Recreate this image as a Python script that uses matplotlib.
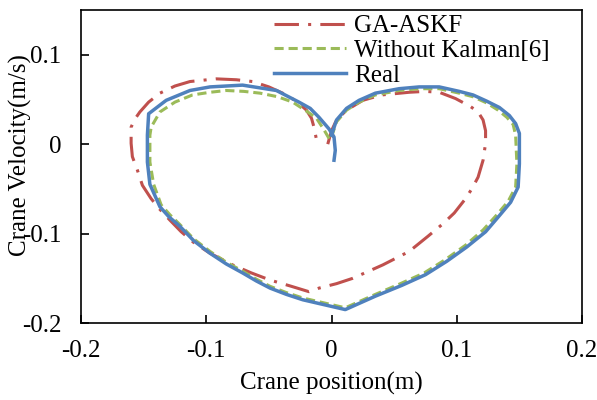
import numpy as np
import matplotlib
matplotlib.use('Agg')
import matplotlib.pyplot as plt
import matplotlib as mpl

mpl.rcParams['font.family'] = ['Liberation Serif', 'DejaVu Serif']
mpl.rcParams['font.size'] = 18

# GA-ASKF
ga_x = [-0.003, 0.000, 0.004, 0.012, 0.025, 0.040, 0.062, 0.075, 0.086, 0.099,
        0.111, 0.117, 0.121, 0.123, 0.123, 0.121, 0.117, 0.112, 0.107, 0.098,
        0.089, 0.077, 0.062, 0.041, 0.017, 0.004, -0.010, -0.018, -0.032, -0.049,
        -0.064, -0.079, -0.097, -0.110, -0.120, -0.129, -0.137, -0.144, -0.151, -0.155,
        -0.159, -0.160, -0.160, -0.157, -0.153, -0.146, -0.137, -0.125, -0.113, -0.092,
        -0.076, -0.063, -0.050, -0.039, -0.028, -0.020, -0.016, -0.014, -0.012]
ga_y = [0.000, 0.015, 0.027, 0.038, 0.049, 0.055, 0.058, 0.059, 0.058, 0.051,
        0.042, 0.036, 0.027, 0.015, 0.001, -0.018, -0.037, -0.050, -0.061, -0.077,
        -0.089, -0.103, -0.120, -0.135, -0.150, -0.156, -0.161, -0.165, -0.159, -0.152,
        -0.144, -0.135, -0.122, -0.110, -0.098, -0.085, -0.073, -0.061, -0.046, -0.029,
        -0.014, 0.001, 0.019, 0.028, 0.036, 0.047, 0.057, 0.065, 0.070, 0.073,
        0.072, 0.070, 0.064, 0.057, 0.048, 0.038, 0.029, 0.019, 0.005]

# Without Kalman[6]
wk_x = [0.000, 0.004, 0.012, 0.022, 0.035, 0.054, 0.070, 0.086, 0.102, 0.113,
        0.124, 0.133, 0.140, 0.145, 0.147, 0.148, 0.147, 0.141, 0.132, 0.121,
        0.107, 0.091, 0.074, 0.055, 0.035, 0.011, -0.023, -0.036, -0.049, -0.060,
        -0.071, -0.084, -0.097, -0.110, -0.121, -0.129, -0.136, -0.142, -0.145, -0.145,
        -0.144, -0.137, -0.125, -0.111, -0.097, -0.084, -0.070, -0.057, -0.043, -0.031,
        -0.019, -0.012, -0.006, -0.001]
wk_y = [0.008, 0.025, 0.038, 0.047, 0.055, 0.060, 0.062, 0.062, 0.057, 0.053,
        0.046, 0.038, 0.030, 0.022, 0.010, -0.022, -0.048, -0.064, -0.079, -0.096,
        -0.113, -0.129, -0.144, -0.156, -0.168, -0.183, -0.172, -0.166, -0.159, -0.151,
        -0.142, -0.132, -0.120, -0.106, -0.090, -0.079, -0.068, -0.045, -0.020, 0.010,
        0.019, 0.036, 0.047, 0.055, 0.058, 0.060, 0.059, 0.057, 0.053, 0.047,
        0.036, 0.029, 0.016, 0.004]

# Real
re_x = [0.000, 0.004, 0.012, 0.022, 0.035, 0.054, 0.070, 0.086, 0.102, 0.113,
        0.124, 0.134, 0.142, 0.147, 0.150, 0.150, 0.149, 0.143, 0.134, 0.123,
        0.108, 0.092, 0.075, 0.056, 0.035, 0.011, -0.023, -0.036, -0.049, -0.060,
        -0.071, -0.084, -0.097, -0.110, -0.121, -0.130, -0.137, -0.145, -0.147, -0.147,
        -0.146, -0.132, -0.113, -0.097, -0.071, -0.044, -0.026, -0.017, -0.010, -0.002,
        0.002, 0.003, 0.002]
re_y = [0.010, 0.027, 0.040, 0.049, 0.057, 0.062, 0.064, 0.064, 0.059, 0.055,
        0.048, 0.041, 0.032, 0.023, 0.012, -0.022, -0.048, -0.065, -0.080, -0.098,
        -0.115, -0.131, -0.146, -0.158, -0.170, -0.185, -0.174, -0.168, -0.161, -0.153,
        -0.144, -0.134, -0.122, -0.108, -0.092, -0.081, -0.070, -0.045, -0.020, 0.010,
        0.034, 0.049, 0.060, 0.064, 0.066, 0.060, 0.047, 0.040, 0.030, 0.017,
        0.008, -0.007, -0.018]

xticks = [-0.2, -0.1, 0, 0.1, 0.2]
xticklabels = ['-0.2', '-0.1', '0', '0.1', '0.2']
yticks = [-0.2, -0.1, 0, 0.1]
yticklabels = ['-0.2', '-0.1', '0', '0.1']

fig = plt.figure(figsize=(5.97, 4.0), dpi=100)
ax = fig.add_axes([0.1357, 0.1925, 0.8392, 0.7825])

ax.plot(ga_x, ga_y, color='#C0504D', lw=2.2, linestyle=(0, (8, 3, 1, 3)),
        dash_joinstyle='round', label='GA-ASKF')
ax.plot(wk_x, wk_y, color='#9BBB59', lw=2.2, linestyle=(0, (3, 1.6)),
        dash_joinstyle='round', label='Without Kalman[6]')
ax.plot(re_x, re_y, color='#4F81BD', lw=2.5, solid_joinstyle='round', label='Real')

ax.set_xlim(-0.2, 0.2)
ax.set_ylim(-0.2, 0.15)
ax.set_xticks(xticks)
ax.set_xticklabels(xticklabels)
ax.set_yticks(yticks)
ax.set_yticklabels(yticklabels)
ax.tick_params(direction='in', length=6, width=1.2, labelsize=18)
ax.tick_params(axis='x', pad=12)
ax.tick_params(axis='y', pad=14)
for s in ax.spines.values():
    s.set_linewidth(1.2)

ax.set_xlabel('Crane position(m)', fontsize=18)
ax.set_ylabel('Crane Velocity(m/s)', fontsize=18)
ax.xaxis.set_label_coords(0.5, -0.155)
ax.yaxis.set_label_coords(-0.098, 0.537)

ax.legend(loc='upper left', bbox_to_anchor=(0.375, 1.0), frameon=False, fontsize=18,
          handlelength=2.9, handletextpad=0.3, labelspacing=0.08, borderpad=0.2, borderaxespad=0)

plt.savefig('out.png', dpi=100)
